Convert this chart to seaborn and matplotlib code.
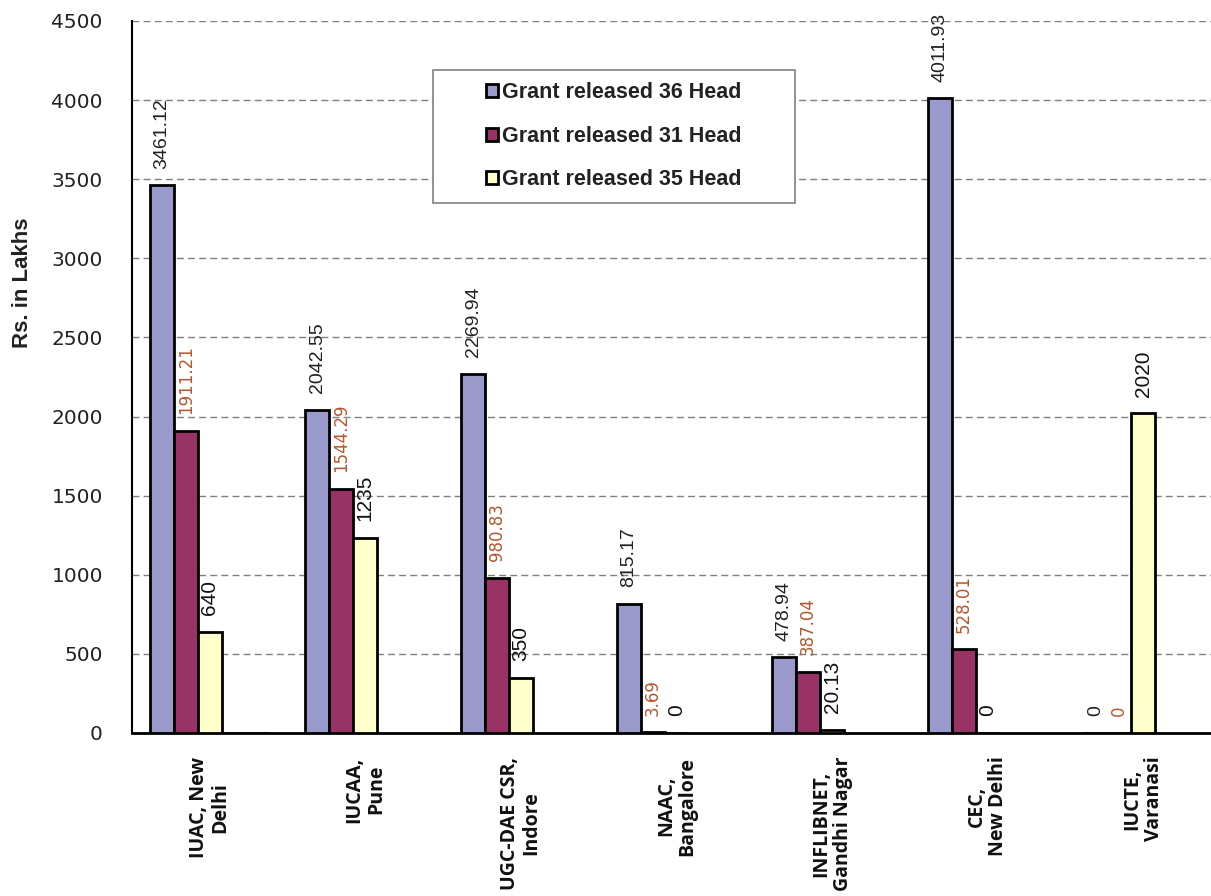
import matplotlib
matplotlib.use("Agg")
import matplotlib.pyplot as plt
import seaborn as sns
import pandas as pd
import numpy as np
from matplotlib.patches import Rectangle, Patch

# ---------------- data ----------------
categories = ["IUAC, New\nDelhi", "IUCAA,\nPune", "UGC-DAE CSR,\nIndore",
              "NAAC,\nBangalore", "INFLIBNET,\nGandhi Nagar", "CEC,\nNew Delhi",
              "IUCTE,\nVaranasi"]
series_names = ["Grant released 36 Head", "Grant released 31 Head",
                "Grant released 35 Head"]
head36 = [3461.12, 2042.55, 2269.94, 815.17, 478.94, 4011.93, 0]
head31 = [1911.21, 1544.29, 980.83, 3.69, 387.04, 528.01, 0]
head35 = [640, 1235, 350, 0, 20.13, 0, 2020]
# two further (empty) series slots present in the original chart
extra_a = [0, np.nan, np.nan, np.nan, np.nan, np.nan, np.nan]
extra_b = [0, np.nan, np.nan, np.nan, np.nan, np.nan, np.nan]
y_ticks = [0, 500, 1000, 1500, 2000, 2500, 3000, 3500, 4000, 4500]

colors = ["#9999CC", "#993366", "#FFFFCC", "#FFFFFF", "#FFFFFF"]
label_colors = ["#222222", "#B5562E", "#111111"]

# ---------------- frame ----------------
all_names = series_names + ["extra a", "extra b"]
rows = []
for name, vals in zip(all_names, [head36, head31, head35, extra_a, extra_b]):
    for c, v in zip(categories, vals):
        if not (isinstance(v, float) and np.isnan(v)):
            rows.append({"cat": c, "series": name, "value": v})
df = pd.DataFrame(rows)

sns.set_style("white")
fig = plt.figure(figsize=(12.11, 8.96), dpi=100)
ax = fig.add_axes([132 / 1211, 1 - 733 / 896, 1089 / 1211, 712 / 896])

sns.barplot(data=df, x="cat", y="value", hue="series", order=categories,
            hue_order=all_names, palette=colors, saturation=1, width=0.77, gap=0,
            edgecolor="black", linewidth=2, legend=False, ax=ax, zorder=3)

ax.set_ylim(0, 4500)
ax.set_xlim(-0.5, 6.5)
ax.set_yticks(y_ticks)
ax.yaxis.grid(True, linestyle=(0, (5, 3)), color="#7f7f7f", linewidth=1, zorder=0)
ax.set_axisbelow(True)
ax.set_xlabel("")
ax.set_ylabel("")

for s in ["top", "right"]:
    ax.spines[s].set_visible(False)
ax.spines["left"].set_color("black")
ax.spines["left"].set_linewidth(1.5)
ax.spines["bottom"].set_color("black")
ax.spines["bottom"].set_linewidth(2)

ax.tick_params(axis="y", length=5, width=1.2, color="#555555", pad=16,
               labelsize=14.5, labelcolor="#222222")
for t in ax.get_yticklabels():
    t.set_fontfamily("DejaVu Sans")

ax.set_xticks(range(len(categories)))
ax.set_xticklabels(categories, rotation=90, fontfamily="Open Sans",
                   fontweight="bold", fontsize=14, ha="center", va="top",
                   linespacing=1.1)
ax.tick_params(axis="x", which="major", length=0, pad=17, labelcolor="#111111")
ax.set_xticks(np.arange(-0.5, 7.0, 1.0), minor=True)
ax.tick_params(axis="x", which="minor", length=6, width=1.5, color="#999999")

# value labels
fonts = [("Liberation Sans", 14), ("DejaVu Sans", 12), ("Liberation Sans", 15)]
for i, cont in enumerate(ax.containers[:3]):
    fam, fs = fonts[i]
    ax.bar_label(cont, fmt="{:g}", padding=12, rotation=90,
                 color=label_colors[i], fontsize=fs, fontfamily=fam)

# y label
fig.text(23 / 1211, 1 - 283 / 896, "Rs. in Lakhs", rotation=90, ha="center",
         va="center", fontsize=16, fontweight="bold",
         fontfamily="Liberation Sans", color="#222222")

# legend
box = Rectangle((0.2764, 0.744), 0.3324, 0.187, transform=ax.transAxes,
                facecolor="white", edgecolor="#808080", linewidth=1.2, zorder=5)
ax.add_patch(box)
handles = [Patch(facecolor=colors[i], edgecolor="black", linewidth=2)
           for i in range(3)]
leg = ax.legend(handles, series_names, loc="center",
                bbox_to_anchor=(0.4426, 0.838), frameon=False,
                prop={"family": "Liberation Sans", "weight": "bold", "size": 15.5},
                handlelength=0.55, handleheight=0.55, handletextpad=0.2,
                labelspacing=1.05)
leg.set_zorder(6)
for t in leg.get_texts():
    t.set_color("#222222")

fig.savefig("out.png", dpi=100)
